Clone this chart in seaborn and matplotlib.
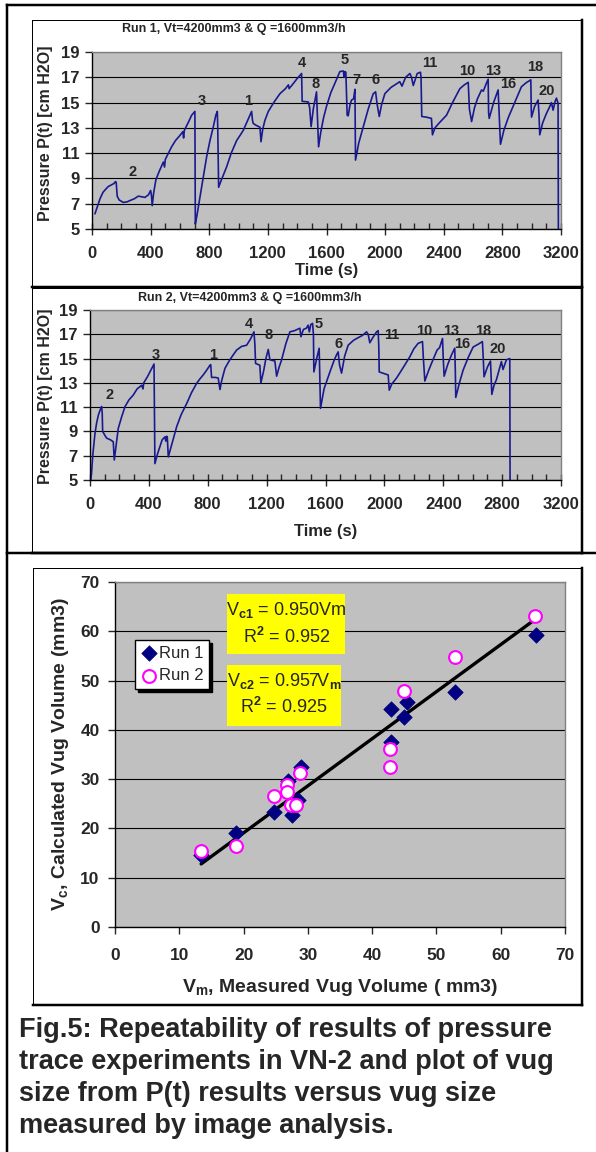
import numpy as np
import pandas as pd
import matplotlib
matplotlib.use("Agg")
import matplotlib.pyplot as plt
from matplotlib.patches import Rectangle
from matplotlib.lines import Line2D
from matplotlib.ticker import MultipleLocator
import seaborn as sns

# ---------------- data ----------------
RUN1_T = [20, 40, 55, 75, 90, 110, 134, 150, 160, 165, 172, 185, 214, 240, 259, 290, 316, 340, 361, 385,
          400, 405, 411, 420, 436, 460, 487, 495, 500, 543, 570, 600, 620, 625, 630, 660, 680, 702, 705, 715,
          737, 760, 782, 805, 828, 845, 855, 858, 864, 880, 918, 950, 987, 1010, 1032, 1055, 1078, 1089, 1095, 1100,
          1120, 1146, 1153, 1165, 1180, 1203, 1240, 1282, 1320, 1340, 1345, 1373, 1400, 1430, 1434, 1476, 1485, 1495, 1510, 1532,
          1536, 1546, 1560, 1580, 1600, 1630, 1660, 1691, 1715, 1720, 1725, 1732, 1741, 1748, 1760, 1771, 1785, 1794, 1798, 1820,
          1851, 1885, 1919, 1935, 1945, 1960, 1975, 1998, 2040, 2080, 2100, 2115, 2140, 2169, 2180, 2192, 2205, 2219, 2241, 2245,
          2250, 2280, 2316, 2323, 2340, 2370, 2419, 2460, 2510, 2540, 2567, 2575, 2590, 2610, 2630, 2658, 2670, 2690, 2703, 2706,
          2710, 2740, 2771, 2780, 2787, 2810, 2840, 2873, 2930, 2960, 2994, 2997, 2999, 3020, 3044, 3050, 3055, 3075, 3101, 3120,
          3135, 3146, 3160, 3169, 3180, 3182]
RUN1_P = [6.2, 6.9, 7.4, 7.9, 8.1, 8.35, 8.5, 8.6, 8.75, 8.7, 7.6, 7.3, 7.1, 7.15, 7.25, 7.4, 7.6, 7.55, 7.5, 7.7,
          8.05, 7.7, 6.85, 7.8, 8.9, 9.6, 10.3, 9.9, 10.5, 11.5, 12.0, 12.4, 12.7, 12.2, 12.8, 13.5, 14.0, 14.3, 5.4, 6.0,
          7.55, 9.2, 10.7, 12.0, 13.1, 14.0, 14.3, 13.0, 8.3, 8.8, 9.9, 11.0, 12.0, 12.4, 12.8, 13.4, 14.0, 14.3, 13.6, 13.35,
          13.2, 13.05, 11.9, 12.9, 13.6, 14.3, 15.0, 15.7, 16.1, 16.4, 16.1, 16.5, 16.9, 17.3, 15.1, 15.05, 14.6, 13.1, 14.5, 15.85,
          14.5, 11.5, 12.6, 13.8, 14.7, 15.8, 16.6, 17.45, 17.5, 17.0, 17.45, 17.4, 14.0, 13.95, 14.8, 15.2, 15.3, 16.05, 10.45, 11.8,
          13.1, 14.5, 15.7, 15.85, 14.9, 13.9, 14.8, 15.7, 16.2, 16.5, 16.65, 16.3, 17.0, 17.3, 17.0, 16.35, 16.8, 17.3, 17.4, 17.0,
          13.9, 13.85, 13.75, 12.45, 13.0, 13.4, 14.0, 15.0, 16.1, 16.4, 16.6, 14.5, 13.5, 14.6, 15.3, 16.0, 15.9, 16.5, 16.85, 14.2,
          13.75, 15.0, 16.0, 13.5, 11.7, 12.8, 13.8, 14.7, 16.25, 16.55, 16.8, 14.5, 13.85, 14.7, 15.2, 14.0, 12.45, 13.4, 14.15, 14.6,
          15.0, 14.4, 15.1, 15.35, 14.95, 5.0]

RUN2_T = [5, 10, 20, 34, 45, 57, 70, 79, 83, 86, 100, 113, 140, 158, 165, 175, 192, 215, 238, 265,
          294, 320, 351, 360, 365, 390, 407, 420, 435, 441, 460, 475, 490, 509, 515, 520, 525, 532, 550, 570,
          589, 620, 657, 690, 724, 745, 769, 790, 815, 820, 826, 850, 871, 883, 895, 917, 950, 996, 1030, 1064,
          1090, 1114, 1120, 1125, 1154, 1161, 1180, 1195, 1211, 1222, 1256, 1268, 1285, 1302, 1330, 1358, 1390, 1426, 1433, 1450,
          1470, 1482, 1490, 1500, 1512, 1518, 1521, 1540, 1557, 1562, 1566, 1590, 1630, 1660, 1675, 1686, 1695, 1709, 1730, 1754,
          1790, 1811, 1850, 1879, 1890, 1901, 1920, 1947, 1958, 1962, 1965, 1990, 2026, 2033, 2050, 2083, 2130, 2173, 2200, 2229,
          2259, 2265, 2275, 2300, 2320, 2358, 2375, 2395, 2400, 2406, 2430, 2456, 2478, 2482, 2485, 2510, 2535, 2570, 2603, 2640,
          2666, 2672, 2677, 2700, 2721, 2725, 2730, 2745, 2761, 2795, 2806, 2829, 2852, 2854]
RUN2_P = [5.0, 5.5, 7.2, 8.85, 9.7, 10.35, 10.8, 11.05, 10.5, 9.0, 8.7, 8.45, 8.3, 8.15, 6.65, 7.6, 9.25, 10.2, 11.05, 11.6,
          12.0, 12.5, 12.8, 12.5, 13.0, 13.5, 13.9, 14.2, 14.55, 6.35, 7.2, 7.75, 8.3, 8.55, 8.2, 8.6, 8.55, 6.9, 7.7, 8.6,
          9.4, 10.4, 11.3, 12.2, 12.95, 13.3, 13.65, 14.0, 14.45, 14.5, 13.45, 13.45, 13.4, 12.45, 13.2, 14.2, 14.9, 15.7, 16.0, 16.1,
          16.6, 17.2, 16.2, 14.6, 14.45, 13.0, 14.0, 15.0, 15.75, 14.9, 14.8, 13.55, 14.3, 14.9, 16.2, 17.2, 17.3, 17.5, 16.8, 17.4,
          17.5, 17.75, 17.2, 17.8, 17.9, 17.0, 13.9, 15.0, 15.85, 13.0, 10.9, 12.5, 13.9, 14.9, 15.3, 15.55, 14.5, 13.8, 15.2, 16.1,
          16.5, 16.65, 16.9, 17.2, 17.0, 16.3, 16.7, 17.2, 17.3, 16.0, 13.9, 13.8, 13.65, 12.4, 12.9, 13.4, 14.3, 15.15, 15.8, 16.25,
          16.4, 15.0, 13.15, 14.0, 14.6, 15.7, 15.9, 16.65, 15.0, 13.55, 14.5, 15.3, 15.85, 14.0, 11.8, 13.0, 14.05, 15.1, 15.95, 16.2,
          16.4, 15.0, 13.5, 14.3, 14.8, 13.5, 12.05, 12.8, 13.25, 14.75, 14.1, 14.9, 15.0, 5.0]

RUN1_LABELS = ["2", "3", "1", "4", "8", "5", "7", "6", "11", "10", "13", "16", "18", "20"]
RUN1_LABEL_T = [280, 747, 1065, 1433, 1525, 1727, 1805, 1935, 2303, 2562, 2738, 2842, 3021, 3102]
RUN1_LABEL_P = [9.5, 15.15, 15.15, 18.1, 16.5, 18.35, 16.8, 16.8, 18.1, 17.5, 17.5, 16.45, 17.85, 15.95]

RUN2_LABELS = ["2", "3", "1", "4", "8", "5", "6", "11", "10", "13", "16", "18", "20"]
RUN2_LABEL_T = [132, 447, 835, 1080, 1214, 1553, 1687, 2048, 2273, 2456, 2526, 2673, 2771]
RUN2_LABEL_P = [12.0, 15.3, 15.3, 17.85, 16.95, 17.85, 16.2, 16.95, 17.3, 17.3, 16.2, 17.3, 15.8]

VM_RUN1 = [13.4, 18.75, 24.8, 27.5, 26.9, 28.4, 28.9, 42.9, 42.9, 44.9, 45.5, 52.9, 65.5]
VC_RUN1 = [14.6, 19.0, 23.4, 22.8, 29.7, 25.7, 32.5, 44.2, 37.6, 42.7, 45.7, 47.6, 59.3]
VM_RUN2 = [13.3, 18.75, 24.8, 26.8, 26.8, 27.4, 28.1, 28.8, 42.8, 42.8, 44.9, 52.9, 65.3]
VC_RUN2 = [15.4, 16.5, 26.6, 28.8, 27.3, 24.7, 24.7, 31.2, 36.1, 32.5, 47.8, 54.7, 63.1]
TREND_X = [13.4, 65.5]
TREND_SLOPE = 0.955

TITLE1 = "Run 1, Vt=4200mm3 & Q =1600mm3/h"
TITLE2 = "Run 2, Vt=4200mm3 & Q =1600mm3/h"
CAPTION = ["Fig.5: Repeatability of results of pressure",
           "trace experiments in VN-2 and plot of vug",
           "size from P(t) results versus vug size",
           "measured by image analysis."]

# ---------------- style ----------------
sns.set_style("ticks")
plt.rcParams['font.family'] = ['Liberation Sans', 'DejaVu Sans']
plt.rcParams['font.weight'] = 'bold'
plt.rcParams['mathtext.fontset'] = 'custom'
plt.rcParams['mathtext.rm'] = 'Liberation Sans'
plt.rcParams['mathtext.it'] = 'Liberation Sans:italic'
plt.rcParams['mathtext.bf'] = 'Liberation Sans:bold'

W, H = 596, 1152
PX = 0.72
fig = plt.figure(figsize=(W / 100, H / 100), dpi=100)
fig.patch.set_facecolor('white')


def fx(x):
    return x / W


def fy(y):
    return 1 - y / H


def line(x0, y0, x1, y1, lw_px, color='black', z=10):
    fig.add_artist(Line2D([fx(x0), fx(x1)], [fy(y0), fy(y1)], transform=fig.transFigure,
                          color=color, lw=lw_px * PX, solid_capstyle='projecting', zorder=z))


def frame(x0, y0, x1, y1):
    line(x0, y0, x1, y0, 1)
    line(x0, y0, x0, y1, 1)
    line(x1, y0, x1, y1, 2.5)
    line(x0, y1, x1, y1, 2.5)


def add_ax(l, t, r, b):
    return fig.add_axes([fx(l), fy(b), (r - l) / W, (b - t) / H])


TRACE = '#1a1a90'
GRID = '#000000'


def style_pressure(ax, title, title_xy, ylab_xy, xlab_y):
    ax.set_facecolor('#c0c0c0')
    ax.set_xlim(0, 3200)
    ax.set_ylim(5, 19)
    ax.set_yticks(range(5, 20, 2))
    ax.set_xticks(range(0, 3201, 400))
    ax.xaxis.set_minor_locator(MultipleLocator(100))
    ax.tick_params(axis='y', which='major', direction='out', length=5, width=1, pad=4, labelsize=12)
    ax.tick_params(axis='x', which='major', direction='inout', length=8, width=1, pad=8, labelsize=12)
    ax.tick_params(axis='x', which='minor', direction='in', length=4, width=1)
    for s in ['left', 'bottom']:
        ax.spines[s].set_color('black')
        ax.spines[s].set_linewidth(1)
    for s in ['top', 'right']:
        ax.spines[s].set_color('#808080')
        ax.spines[s].set_linewidth(1)
    ax.yaxis.grid(True, color=GRID, lw=0.8)
    ax.set_axisbelow(True)
    ax.set_ylabel("Pressure P(t) [cm H2O]", fontsize=11.5, fontweight='bold')
    ax.set_xlabel("Time (s)", fontsize=12, fontweight='bold')
    ax.yaxis.set_label_coords(*ylab_xy)
    ax.xaxis.set_label_coords(0.5, xlab_y)
    ax.yaxis.label.set_va('center')
    ax.xaxis.label.set_va('center')
    fig.text(fx(title_xy[0]), fy(title_xy[1]), title, ha='center', va='center', fontsize=9, fontweight='bold')


# ---------------- frames ----------------
line(7, 5, 600, 5, 2.5)
line(7, 5, 7, 1160, 2.5)
frame(32, 20, 582, 287)
frame(32, 288, 582, 553)
line(7, 553, 600, 553, 2.5)
frame(33, 568, 582, 1005)

# ---------------- chart 1 ----------------
ax1 = add_ax(92, 52, 561, 229)
df1 = pd.DataFrame({'t': RUN1_T, 'P': RUN1_P})
sns.lineplot(data=df1, x='t', y='P', sort=False, estimator=None, color=TRACE, lw=1.2, ax=ax1)
style_pressure(ax1, TITLE1, (234, 29), (-0.100, 0.54), -0.232)
for lab, t, p in zip(RUN1_LABELS, RUN1_LABEL_T, RUN1_LABEL_P):
    ax1.text(t, p, lab, ha='center', va='center', fontsize=10.5, fontweight='bold')

# ---------------- chart 2 ----------------
ax2 = add_ax(90, 310, 561, 480)
df2 = pd.DataFrame({'t': RUN2_T, 'P': RUN2_P})
sns.lineplot(data=df2, x='t', y='P', sort=False, estimator=None, color=TRACE, lw=1.2, ax=ax2)
style_pressure(ax2, TITLE2, (250, 298), (-0.0955, 0.49), -0.30)
for lab, t, p in zip(RUN2_LABELS, RUN2_LABEL_T, RUN2_LABEL_P):
    ax2.text(t, p, lab, ha='center', va='center', fontsize=10.5, fontweight='bold')

# ---------------- scatter ----------------
ax3 = add_ax(115, 582, 565, 927)
ax3.set_facecolor('#c0c0c0')
ax3.set_xlim(0, 70)
ax3.set_ylim(0, 70)
ax3.set_xticks(range(0, 71, 10))
ax3.set_yticks(range(0, 71, 10))
ax3.yaxis.grid(True, color=GRID, lw=0.8)
ax3.set_axisbelow(True)
for s in ['left', 'bottom']:
    ax3.spines[s].set_color('black')
    ax3.spines[s].set_linewidth(1)
for s in ['top', 'right']:
    ax3.spines[s].set_color('#808080')
    ax3.spines[s].set_linewidth(1)
ax3.tick_params(axis='both', direction='out', length=5, width=1, labelsize=12.5)
ax3.tick_params(axis='y', pad=6)
ax3.tick_params(axis='x', pad=10)

tx = np.array(TREND_X)
sns.lineplot(x=tx, y=TREND_SLOPE * tx, color='black', lw=2.4, ax=ax3, legend=False, zorder=3)
sns.scatterplot(x=VM_RUN1, y=VC_RUN1, marker='D', s=62, color='#000080', edgecolor='#000080',
                linewidth=0.5, ax=ax3, label='Run 1', zorder=4)
sns.scatterplot(x=VM_RUN2, y=VC_RUN2, marker='o', s=85, color='white', edgecolor='#ff00ff',
                linewidth=1.5, ax=ax3, label='Run 2', zorder=5)
leg = ax3.legend(loc='upper left', bbox_to_anchor=(0.044, 0.832), borderaxespad=0,
                 frameon=True, fancybox=False, edgecolor='black', framealpha=1,
                 prop={'weight': 'normal', 'size': 12}, handletextpad=0.1, handlelength=1.0,
                 borderpad=0.35, labelspacing=0.45, shadow={'color': 'black', 'alpha': 1})
leg.get_frame().set_linewidth(1)

ax3.set_xlabel(r"V$_{\mathbf{m}}$, Measured Vug Volume ( mm3)", fontsize=14, fontweight='bold')
ax3.set_ylabel(r"V$_{\mathbf{c}}$, Calculated Vug Volume (mm3)", fontsize=14, fontweight='bold')
ax3.xaxis.set_label_coords(0.5, -0.174)
ax3.yaxis.set_label_coords(-0.12, 0.50)
ax3.xaxis.label.set_va('center')
ax3.yaxis.label.set_va('center')

# yellow equation boxes
for (x0, y0, x1, y1) in [(227, 594, 345, 654), (227, 665, 341, 726)]:
    fig.add_artist(Rectangle((fx(x0), fy(y1)), (x1 - x0) / W, (y1 - y0) / H, transform=fig.transFigure,
                             facecolor='#ffff00', edgecolor='none', zorder=5))
eq_texts = [(286, 610, r"V$_{\mathrm{c1}}$ = 0.950Vm"), (287, 637, r"R$^{\mathrm{2}}$ = 0.952"),
            (284, 681, r"V$_{\mathrm{c2}}$ = 0.957V$_{\mathrm{m}}$"), (284, 707, r"R$^{\mathrm{2}}$ = 0.925")]
for x, y, s in eq_texts:
    fig.text(fx(x), fy(y), s, ha='center', va='center', fontsize=13, fontweight='normal', zorder=6)

# caption
for i, s in enumerate(CAPTION):
    fig.text(fx(19), fy(1030 + 32 * i), s, ha='left', va='center', fontsize=19.5, fontweight='bold')

fig.savefig("out.png", dpi=100, facecolor='white')
